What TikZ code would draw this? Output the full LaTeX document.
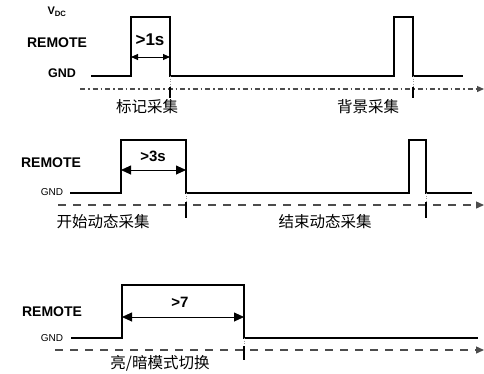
\documentclass[tikz,border=0pt]{standalone}
\usepackage{fontspec}
\setmainfont{Liberation Sans}
\newfontfamily\cjk{Noto Sans CJK SC}
\usetikzlibrary{arrows.meta}
\begin{document}
\begin{tikzpicture}[x=1pt,y=-1pt,
  sig/.style={line width=2.6pt, line join=miter},
  axisdash/.style={line width=1.3pt, draw=black!70, dash pattern=on 8pt off 7pt, -{Triangle[length=8pt,width=7pt]}},
  axisdashdot/.style={line width=1.3pt, draw=black!70, dash pattern=on 5pt off 3pt on 1.5pt off 3pt, -{Triangle[length=7pt,width=6pt]}},
  dim/.style={line width=0.9pt, {Triangle[length=10pt,width=9pt]}-{Triangle[length=10pt,width=9pt]}},
  dimsmall/.style={line width=0.9pt, {Triangle[length=7pt,width=6pt]}-{Triangle[length=7pt,width=6pt]}},
  tickmark/.style={line width=1.8pt},
  guide/.style={line width=0.5pt, draw=black!40, dotted},
  lbl/.style={inner sep=0pt, font=\bfseries\fontsize{14}{16}\selectfont},
  cn/.style={inner sep=0pt, font=\cjk\fontsize{15.5}{17}\selectfont},
]
\useasboundingbox (0,0) rectangle (484,373);

% ---------- panel 1 ----------
\node[inner sep=0pt, font=\bfseries\fontsize{11}{12}\selectfont] (vdc) at (57,12) {V\textsubscript{DC}};
\node[lbl] (rem1) at (57,43) {REMOTE};
\node[lbl, font=\bfseries\fontsize{12.5}{14}\selectfont] (gnd1) at (62,73) {GND};
\coordinate (s1a) at (91,76);
\coordinate (r1) at (131,76);
\coordinate (f1) at (170,76);
\coordinate (r1b) at (394,76);
\coordinate (f1b) at (413,76);
\coordinate (s1e) at (463,76);
\draw[sig] (s1a) -- (r1) -- (131,17) -- (170,17) -- (f1) -- (r1b) -- (394,17) -- (413,17) -- (f1b) -- (s1e);
\coordinate (d1a) at (131,57);
\coordinate (d1b) at (170,57);
\draw[dimsmall] (d1a) -- (d1b);
\node[inner sep=0pt, font=\bfseries\fontsize{17}{19}\selectfont] (t1) at (150,40) {>1s};
\coordinate (ax1a) at (80,89);
\coordinate (ax1b) at (484,89);
\draw[axisdashdot] (ax1a) -- (ax1b);
\coordinate (k1a) at (170,89);
\coordinate (k1b) at (170,98);
\coordinate (k2a) at (413,89);
\coordinate (k2b) at (413,98);
\draw[guide] (f1) -- (k1a);
\draw[guide] (f1b) -- (k2a);
\draw[tickmark] (170,87) -- (k1b);
\draw[tickmark] (413,87) -- (k2b);
\node[cn] (c1) at (147,107) {标记采集};
\node[cn] (c2) at (368,107) {背景采集};

% ---------- panel 2 ----------
\node[lbl] (rem2) at (51,163) {REMOTE};
\node[inner sep=0pt, font=\fontsize{10}{12}\selectfont] (gnd2) at (52,192) {GND};
\coordinate (s2a) at (70,193);
\coordinate (r2) at (121,193);
\coordinate (f2) at (186,193);
\coordinate (r2b) at (409,193);
\coordinate (f2b) at (426,193);
\coordinate (s2e) at (472,193);
\draw[sig] (s2a) -- (r2) -- (121,140) -- (186,140) -- (f2) -- (r2b) -- (409,140) -- (426,140) -- (f2b) -- (s2e);
\coordinate (d2a) at (121,170);
\coordinate (d2b) at (186,170);
\draw[dim] (d2a) -- (d2b);
\node[inner sep=0pt, font=\bfseries\fontsize{15}{17}\selectfont] (t2) at (153,156) {>3s};
\coordinate (ax2a) at (58,205);
\coordinate (ax2b) at (484,205);
\draw[axisdash] (ax2a) -- (ax2b);
\draw[guide] (f2) -- (186,205);
\draw[guide] (f2b) -- (426,205);
\coordinate (k3b) at (186,218);
\coordinate (k4b) at (426,218);
\draw[tickmark] (186,202) -- (k3b);
\draw[tickmark] (426,202) -- (k4b);
\node[cn] (c3) at (103,222) {开始动态采集};
\node[cn] (c4) at (325,222) {结束动态采集};

% ---------- panel 3 ----------
\node[lbl] (rem3) at (52,312) {REMOTE};
\node[inner sep=0pt, font=\fontsize{10}{12}\selectfont] (gnd3) at (52,338) {GND};
\coordinate (s3a) at (71,338);
\coordinate (r3) at (122,338);
\coordinate (f3) at (244,338);
\coordinate (s3e) at (478,338);
\draw[sig] (s3a) -- (r3) -- (122,285) -- (244,285) -- (f3) -- (s3e);
\coordinate (d3a) at (122,317);
\coordinate (d3b) at (244,317);
\draw[dim] (d3a) -- (d3b);
\node[inner sep=0pt, font=\bfseries\fontsize{15}{17}\selectfont] (t3) at (180,302) {>7};
\coordinate (ax3a) at (55,350);
\coordinate (ax3b) at (484,350);
\draw[axisdash] (ax3a) -- (ax3b);
\draw[guide] (f3) -- (244,350);
\coordinate (k5b) at (244,360);
\draw[tickmark] (244,346) -- (k5b);
\node[cn] (c5) at (160,363) {亮/暗模式切换};
\end{tikzpicture}
\end{document}
